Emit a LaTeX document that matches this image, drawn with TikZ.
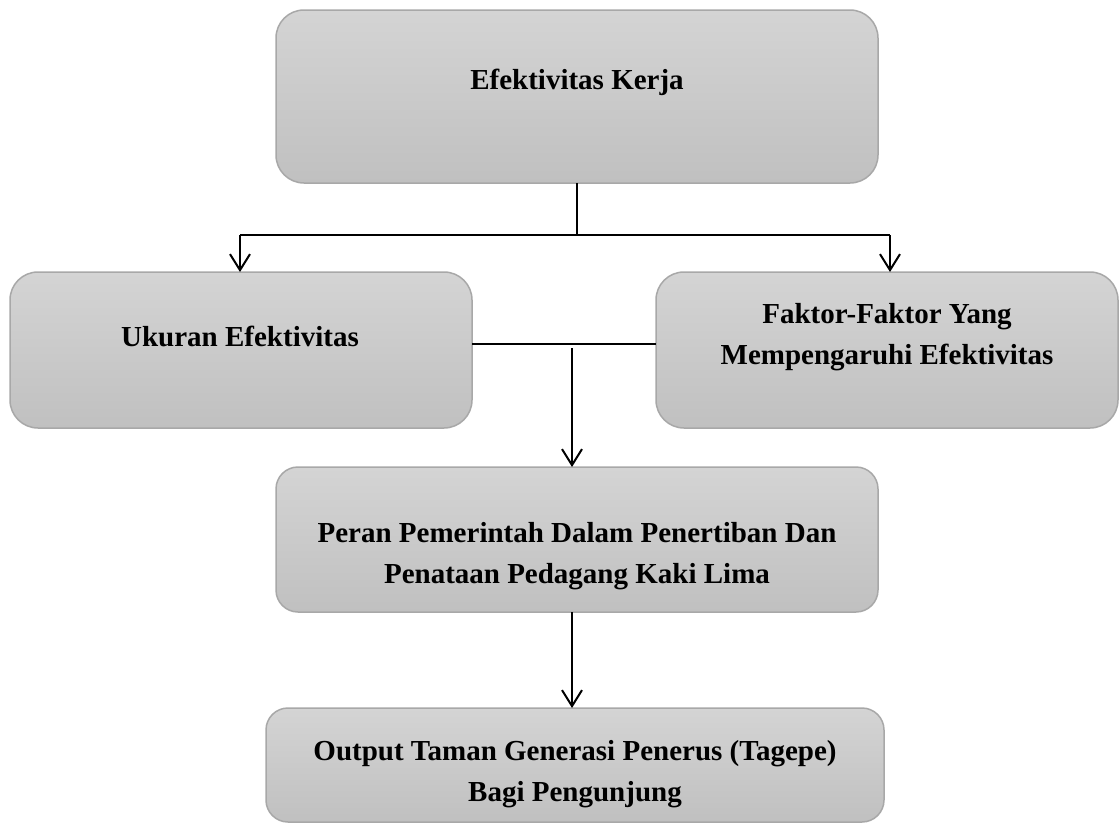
\documentclass[tikz,border=0pt]{standalone}
\usepackage{fontspec}
\setmainfont{Liberation Serif}
\usetikzlibrary{arrows.meta}
\definecolor{boxtop}{HTML}{D4D4D4}
\definecolor{boxbot}{HTML}{C0C0C0}
\definecolor{boxline}{HTML}{A8A8A8}
\tikzset{
  box/.style={draw=boxline, line width=1.5pt, top color=boxtop, bottom color=boxbot, rounded corners=28pt},
  lbl/.style={font=\bfseries\fontsize{29}{41}\selectfont, align=center, text=black, inner sep=0pt},
  conn/.style={line width=2pt, black},
  arr/.style={conn, -{Straight Barb[length=16pt,width=20pt,line width=2pt]}}
}
\begin{document}
\begin{tikzpicture}[x=1pt,y=-1pt]
\useasboundingbox (0,0) rectangle (1120,830);
\fill[white] (0,0) rectangle (1120,830);
\draw[box] (276,10) rectangle (878,183);
\draw[box] (10,272) rectangle (472,428);
\draw[box] (656,272) rectangle (1118,428);
\draw[box,rounded corners=22pt] (276,467) rectangle (878,612);
\draw[box,rounded corners=22pt] (266,708) rectangle (884,822);
\coordinate (b1s) at (577,183);
\coordinate (b2n) at (240,272);
\coordinate (b3n) at (890,272);
\coordinate (b2e) at (472,344);
\coordinate (b3w) at (656,344);
\coordinate (b4n) at (572,467);
\coordinate (b4s) at (572,612);
\coordinate (b5n) at (572,708);
\coordinate (j) at (577,235);
\coordinate (jl) at (240,235);
\coordinate (jr) at (890,235);
\coordinate (m) at (572,348);
\node[lbl] (t1) at (577,82) {Efektivitas Kerja};
\node[lbl] (t2) at (240,336) {Ukuran Efektivitas};
\node[lbl] (t3) at (887,337) {Faktor-Faktor Yang\\Mempengaruhi Efektivitas};
\node[lbl] (t4) at (577,556) {Peran Pemerintah Dalam Penertiban Dan\\Penataan Pedagang Kaki Lima};
\node[lbl] (t5) at (575,774) {Output Taman Generasi Penerus (Tagepe)\\Bagi Pengunjung};
\draw[conn] (b1s) -- (j);
\draw[conn] (jl) -- (jr);
\draw[arr] (jl) -- (b2n);
\draw[arr] (jr) -- (b3n);
\draw[conn, line width=1.5pt] (b2e) -- (b3w);
\draw[arr] (m) -- (b4n);
\draw[arr] (b4s) -- (b5n);
\end{tikzpicture}
\end{document}
